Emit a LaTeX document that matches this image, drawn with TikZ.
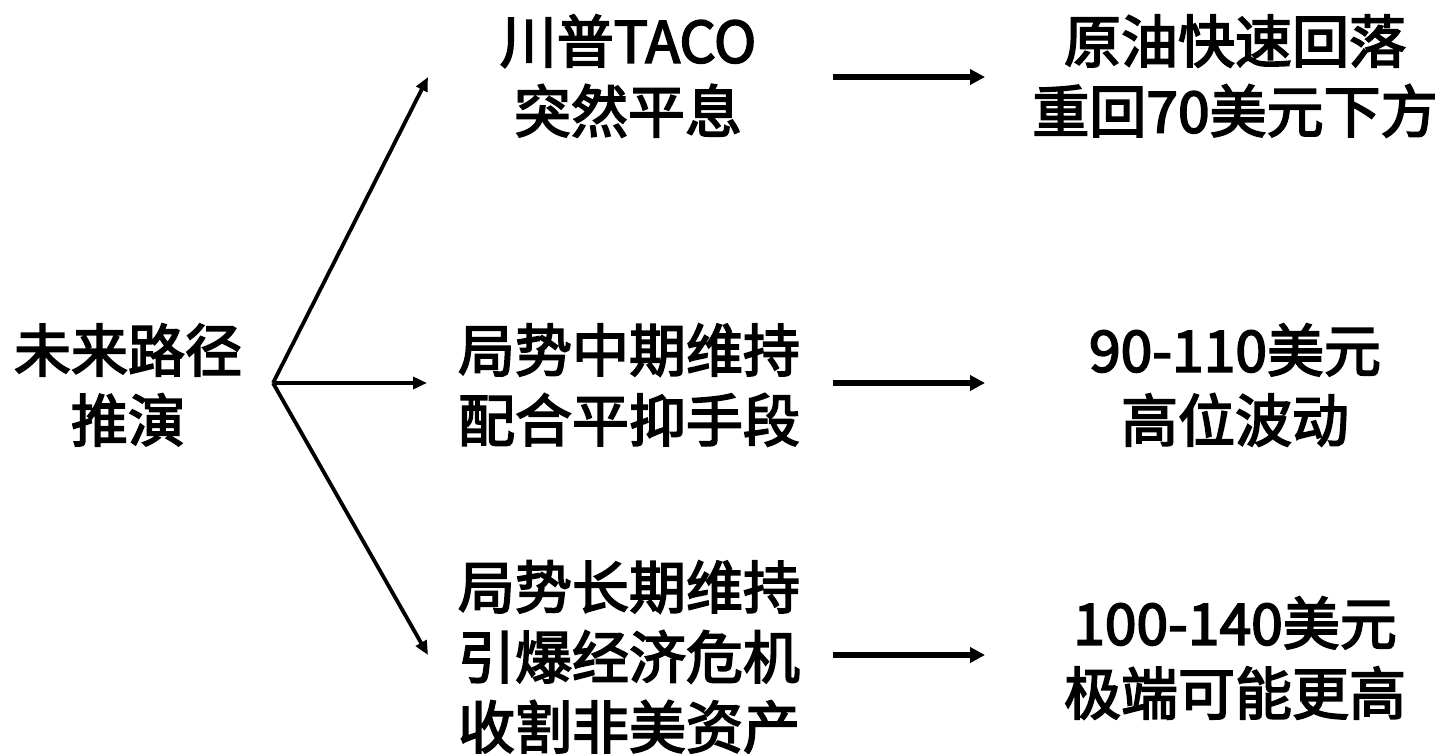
\documentclass[tikz,border=0pt]{standalone}
\usepackage{fontspec}
\newfontfamily\cjkf[FakeBold=3]{Noto Sans CJK SC}
\usetikzlibrary{arrows.meta}
\tikzset{
  txt/.style={align=center, inner sep=0pt, font=\cjkf\fontsize{57pt}{70pt}\selectfont},
  diag/.style={line width=3.8pt, -{Triangle[length=14pt,width=12pt]}},
  horiz/.style={line width=5.2pt, -{Triangle[length=15pt,width=15pt]}}
}
\begin{document}
\begin{tikzpicture}[x=1pt,y=1pt]
\useasboundingbox (0,0) rectangle (1442,-754);
\node[txt] (L) at (128,-385) {未来路径\\推演};
\node[txt] (T) at (628,-76) {川普TACO\\突然平息};
\node[txt] (M) at (629,-385) {局势中期维持\\配合平抑手段};
\node[txt] (B) at (629,-657) {局势长期维持\\引爆经济危机\\收割非美资产};
\node[txt] (RT) at (1235,-76) {原油快速回落\\重回70美元下方};
\node[txt] (RM) at (1235,-385) {90-110美元\\高位波动};
\node[txt] (RB) at (1235,-658) {100-140美元\\极端可能更高};
\coordinate (fork) at (273,-383);
\coordinate (tT) at (428,-77);
\coordinate (tM) at (427,-383);
\coordinate (tB) at (428,-655);
\coordinate (hT1) at (833,-77);
\coordinate (hT2) at (985,-77);
\coordinate (hM1) at (833,-383);
\coordinate (hM2) at (985,-383);
\coordinate (hB1) at (833,-655);
\coordinate (hB2) at (985,-655);
\draw[diag] (fork) -- (tT);
\draw[diag] (fork) -- (tM);
\draw[diag] (fork) -- (tB);
\draw[horiz] (hT1) -- (hT2);
\draw[horiz] (hM1) -- (hM2);
\draw[horiz] (hB1) -- (hB2);
\end{tikzpicture}
\end{document}
